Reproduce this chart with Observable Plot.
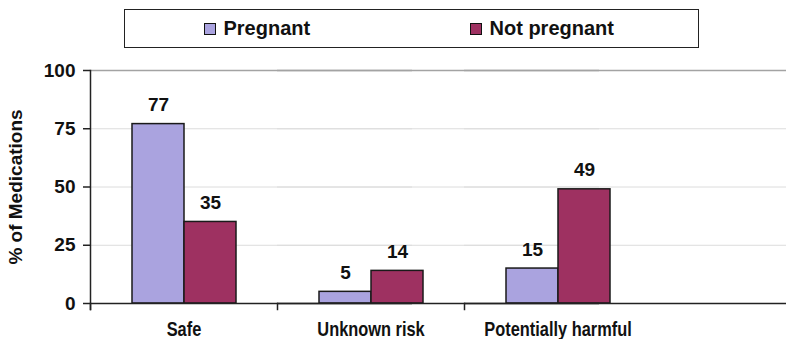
<!DOCTYPE html>
<html>
<head>
<meta charset="utf-8">
<script src="https://cdn.jsdelivr.net/npm/d3@7"></script>
<script src="https://cdn.jsdelivr.net/npm/@observablehq/plot@0.6"></script>
<style>
  body { margin: 0; background: #fff; font-family: "Liberation Sans", Arial, sans-serif; }
  #wrap { width: 786px; height: 339px; position: relative; overflow: hidden; }
  #legend { position: relative; height: 50px; }
  #legend .box { position: absolute; left: 124px; top: 9px; width: 575px; height: 39px; border: 1.5px solid #222; box-sizing: border-box; }
  #legend .item { position: absolute; top: 0; height: 100%; display: flex; align-items: center; font-weight: bold; font-size: 20px; color: #111; }
  #legend .sw { width: 10px; height: 10px; border: 1.5px solid #111; margin-right: 8px; }
</style>
</head>
<body>
<div id="wrap">
  <div id="legend"><div class="box"></div></div>
  <div id="chart"></div>
</div>
<script>
// Share of medications by safety class, pregnant vs not pregnant
const categories = ["Safe", "Unknown risk", "Potentially harmful"];
const groups = ["Pregnant", "Not pregnant"];
const pregnant = [77, 5, 15];
const notPregnant = [35, 14, 49];
const yTicks = [0, 25, 50, 75, 100];
const colors = ["#aaa3df", "#9e3161"];
const yLabel = "% of Medications";

const rows = categories.flatMap((c, i) => [
  {category: c, group: groups[0], value: pregnant[i]},
  {category: c, group: groups[1], value: notPregnant[i]}
]);

// legend box
const box = document.querySelector("#legend .box");
const itemLefts = [78.5, 344.5];
groups.forEach((g, i) => {
  const item = document.createElement("div");
  item.className = "item";
  item.style.left = itemLefts[i] + "px";
  const sw = document.createElement("span");
  sw.className = "sw";
  sw.style.background = colors[i];
  item.appendChild(sw);
  item.appendChild(document.createTextNode(g));
  box.appendChild(item);
});

const W = 786, H = 289;
const mL = 90, mR = 135, mT = 20, mB = 36;

const chart = Plot.plot({
  width: W,
  height: H,
  marginLeft: mL,
  marginRight: mR,
  marginTop: mT,
  marginBottom: mB,
  style: {fontFamily: "Liberation Sans, Arial, sans-serif", fontWeight: "bold", fontSize: "19px", color: "#111", background: "#fff"},
  fx: {domain: categories, padding: 0, label: null},
  x: {domain: groups, paddingInner: 0, paddingOuter: 0.79, axis: null},
  y: {domain: [0, 100]},
  color: {domain: groups, range: colors},
  marks: [
    Plot.ruleY([25, 50, 75], {stroke: "#dcdcdc", strokeWidth: 1, insetRight: -mR}),
    Plot.ruleY([100], {stroke: "#a3a3a3", strokeWidth: 1.3, insetRight: -mR}),
    Plot.barY(rows, {fx: "category", x: "group", y: "value", fill: "group", stroke: "#1a1a1a", strokeWidth: 1.5}),
    Plot.text(rows, {fx: "category", x: "group", y: "value", text: "value", dy: -19, fill: "#111"}),
    Plot.ruleY([0], {stroke: "#222", strokeWidth: 1.5, insetRight: -mR}),
    Plot.frame({anchor: "left", facetAnchor: "left", stroke: "#222", strokeWidth: 1.5, insetBottom: -6}),
    Plot.frame({anchor: "left", stroke: "#222", strokeWidth: 1.5, insetTop: H - mT - mB, insetBottom: -6}),
    Plot.axisY({ticks: yTicks, tickSize: 7, tickPadding: 8, stroke: "#222", strokeWidth: 1.5,
      label: yLabel, labelAnchor: "center", labelArrow: "none", labelOffset: 82, fontSize: 19}),
    Plot.axisFx({anchor: "bottom", tickSize: 0, tickPadding: 18, label: null, fontSize: 20})
  ]
});

// category labels use a condensed face: squeeze them horizontally about their anchor
d3.select(chart).selectAll("g[aria-label='fx-axis tick label'] text").each(function () {
  const t = this.getAttribute("transform");
  this.setAttribute("transform", (t ? t + " " : "") + "scale(0.82,1)");
});

document.getElementById("chart").appendChild(chart);
</script>
</body>
</html>
